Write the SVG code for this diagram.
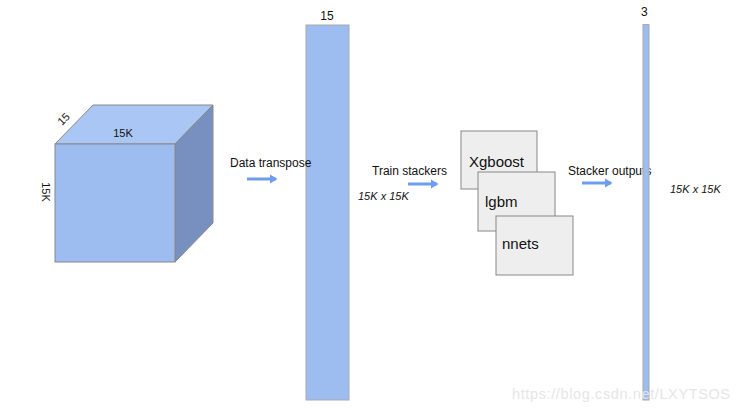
<svg xmlns="http://www.w3.org/2000/svg" width="740" height="415" viewBox="0 0 740 415">
<style>
text{font-family:"Liberation Sans",Arial,sans-serif;fill:#111}
.s{font-size:11px}
.m{font-size:12px}
.i{font-size:11px;font-style:italic}
.b{font-size:15px}
.box{fill:#eeeeee;stroke:#888;stroke-width:1}
.bar{fill:#9dbcf0;stroke:#aaa;stroke-width:1}
.arr{stroke:#6d9eeb;stroke-width:3;fill:none;marker-end:url(#ah)}
</style>
<defs>
<marker id="ah" markerWidth="4" markerHeight="4" refX="2" refY="2" orient="auto" markerUnits="strokeWidth">
<path d="M0,0.5 L2.5,2 L0,3.5 Z" fill="#6d9eeb"/>
</marker>
</defs>
<rect width="740" height="415" fill="#fff"/>
<g id="cube">
<polygon points="55,144 93,105 213,105 175,144" fill="#aac6f4" stroke="#888"/>
<polygon points="175,144 213,105 213,223 175,262" fill="#7790bf" stroke="#888"/>
<rect x="55" y="144" width="120" height="118" fill="#9dbcf0" stroke="#888"/>
<text class="s" x="123" y="137" text-anchor="middle">15K</text>
<text class="s" transform="translate(62,126) rotate(-45)">15</text>
<text class="s" transform="translate(42,192) rotate(90)" text-anchor="middle">15K</text>
</g>
<g id="bar1">
<rect class="bar" x="306" y="25" width="43" height="375"/>
<text class="m" x="327" y="20" text-anchor="middle">15</text>
</g>
<g id="label1">
<text class="m" x="230" y="167">Data transpose</text>
<text class="i" x="358" y="200">15K x 15K</text>
</g>
<g id="xgboost">
<rect class="box" x="461" y="131" width="76" height="58"/>
<text class="b" x="469" y="167">Xgboost</text>
</g>
<g id="lgbm">
<rect class="box" x="478" y="172" width="77" height="59"/>
<text class="b" x="485" y="207">lgbm</text>
</g>
<g id="nnets">
<rect class="box" x="496" y="216" width="77" height="59"/>
<text class="b" x="502" y="249">nnets</text>
</g>
<g id="label2">
<text class="m" x="372" y="175">Train stackers</text>
<text class="m" x="568" y="175">Stacker outputs</text>
</g>
<g id="bar2">
<rect class="bar" x="643" y="24.5" width="6" height="375.5"/>
<text class="m" x="641" y="16">3</text>
<text class="i" x="670" y="193">15K x 15K</text>
</g>
<g id="connectors">
<line class="arr" x1="247" y1="179" x2="276" y2="179"/>
<line class="arr" x1="408" y1="184" x2="437" y2="184"/>
<line class="arr" x1="582" y1="183" x2="611" y2="183"/>
</g>
<text x="512" y="399" font-size="14.5" style="fill:#e6e6e6" textLength="218">https://blog.csdn.net/LXYTSOS</text>
</svg>
